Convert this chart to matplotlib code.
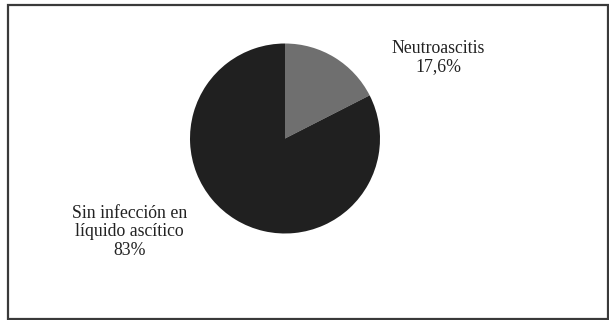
import matplotlib.pyplot as plt
from matplotlib.patches import Rectangle

labels = ['Neutroascitis\n17,6%', 'Sin infección en\nlíquido ascítico\n83%']
values = [17.6, 83]
colors = ['#6f6f6f', '#202020']

W, H = 609, 320
fig = plt.figure(figsize=(W / 100, H / 100), dpi=100)
ax = fig.add_axes([0, 0, 1, 1])

# outer frame
ax.add_patch(Rectangle((8, 1.5), W - 9.5, H - 6.5, fill=False,
                       edgecolor='#3a3a3a', linewidth=1.6))

ax.pie(values, colors=colors, startangle=90, counterclock=False,
       center=(285, H - 138.5), radius=95, frame=True,
       wedgeprops=dict(linewidth=0))
ax.set_xlim(0, W)
ax.set_ylim(0, H)
ax.set_aspect('equal')
ax.set_axis_off()

font = dict(family='Liberation Serif', fontsize=12.8, color='#222222',
            ha='center', va='center', linespacing=1.15)
ax.text(438, H - 57.5, labels[0], **font)
ax.text(129.5, H - 232, labels[1], **font)

fig.savefig('out.png', dpi=100)
